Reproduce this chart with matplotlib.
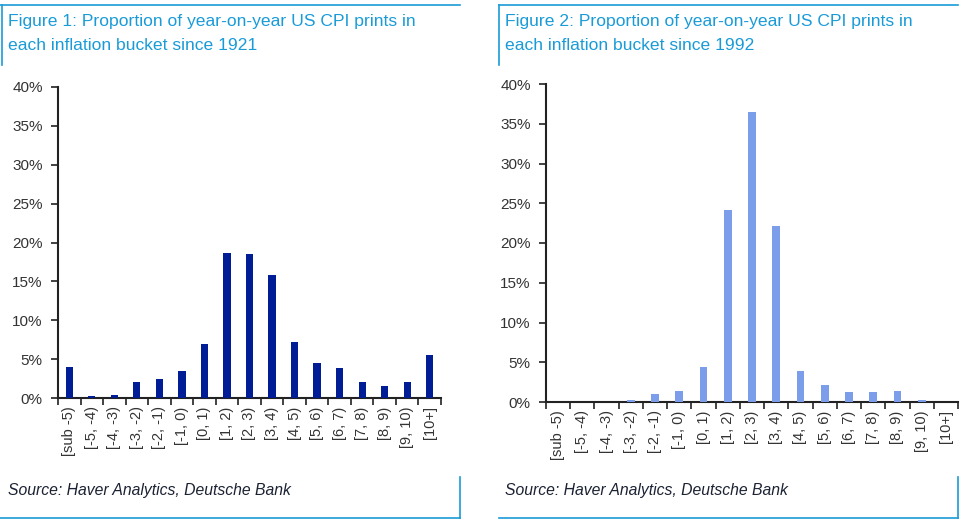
import matplotlib
matplotlib.use("Agg")
import matplotlib.pyplot as plt
from matplotlib.lines import Line2D
from matplotlib.ticker import FixedLocator, FuncFormatter

plt.rcParams['font.family'] = ['Liberation Sans', 'DejaVu Sans']

categories = ["[sub -5)", "[-5, -4)", "[-4, -3)", "[-3, -2)", "[-2, -1)", "[-1, 0)",
              "[0, 1)", "[1, 2)", "[2, 3)", "[3, 4)", "[4, 5)", "[5, 6)", "[6, 7)",
              "[7, 8)", "[8, 9)", "[9, 10)", "[10+]"]
since_1921 = [4.0, 0.2, 0.45, 2.0, 2.5, 3.5, 6.9, 18.6, 18.55, 15.8, 7.2, 4.5, 3.9,
              2.0, 1.6, 2.0, 5.5]
since_1992 = [0.0, 0.0, 0.0, 0.25, 0.95, 1.4, 4.4, 24.1, 36.5, 22.2, 3.9, 2.15, 1.2,
              1.2, 1.4, 0.25, 0.0]
titles = ["Figure 1: Proportion of year-on-year US CPI prints in\neach inflation bucket since 1921",
          "Figure 2: Proportion of year-on-year US CPI prints in\neach inflation bucket since 1992"]
source = "Source: Haver Analytics, Deutsche Bank"
yticks = [0, 5, 10, 15, 20, 25, 30, 35, 40]

W, H = 961, 524
fig = plt.figure(figsize=(W / 100, H / 100), dpi=100)

title_color = "#1A9BD7"
text_color = "#333333"

def fx(px):
    return px / W

def fy(py):
    return 1 - py / H

panels = [
    dict(data=since_1921, color="#001D96", ax=(58, 441, 87, 398), x0=0, x1=460, vx=2, tx=8, title=titles[0]),
    dict(data=since_1992, color="#7B9DEA", ax=(546, 958, 84, 402), x0=499, x1=958, vx=499, tx=505, title=titles[1]),
]

for p in panels:
    l, r, t, b = p["ax"]
    ax = fig.add_axes([fx(l), fy(b), fx(r - l), (b - t) / H])
    x = list(range(len(categories)))
    ax.bar(x, p["data"], width=0.32, color=p["color"], edgecolor="none", zorder=3)
    ax.set_xlim(-0.5, len(categories) - 0.5)
    ax.set_ylim(0, 40)
    ax.set_yticks(yticks)
    ax.yaxis.set_major_formatter(FuncFormatter(lambda v, pos: f"{v:.0f}%"))
    ax.set_xticks(x)
    ax.set_xticklabels(categories, rotation=90, fontsize=10.5, color=text_color)
    ax.xaxis.set_minor_locator(FixedLocator([i - 0.5 for i in range(len(categories) + 1)]))
    ax.tick_params(axis="x", which="major", length=0, pad=6)
    ax.tick_params(axis="x", which="minor", length=5, width=1.2, direction="out", color="#222222")
    ax.tick_params(axis="y", length=5, width=1.2, direction="out", color="#222222",
                   labelsize=11, labelcolor=text_color, pad=6)
    for s in ["top", "right"]:
        ax.spines[s].set_visible(False)
    for s in ["left", "bottom"]:
        ax.spines[s].set_linewidth(1.5)
        ax.spines[s].set_color("#222222")

    # title
    fig.text(fx(p["tx"]), fy(14), p["title"], ha="left", va="top", fontsize=12.6,
             color=title_color, linespacing=1.75)
    # source
    fig.text(fx(p["tx"]), fy(490), source, ha="left", va="center", fontsize=11.3,
             color="#1C2233", style="italic",
             family=["Liberation Sans Narrow", "Liberation Sans", "DejaVu Sans"])
    # borders
    lc = "#1A9BD7"
    fig.add_artist(Line2D([fx(p["x0"]), fx(p["x1"])], [fy(5), fy(5)], color=lc, lw=1.2))
    fig.add_artist(Line2D([fx(p["vx"]), fx(p["vx"])], [fy(5), fy(65)], color=lc, lw=1.2))
    fig.add_artist(Line2D([fx(p["x0"]), fx(p["x1"])], [fy(518), fy(518)], color=lc, lw=1.2))
    fig.add_artist(Line2D([fx(p["x1"]), fx(p["x1"])], [fy(477), fy(518)], color=lc, lw=1.2))

fig.savefig("out.png", dpi=100)
